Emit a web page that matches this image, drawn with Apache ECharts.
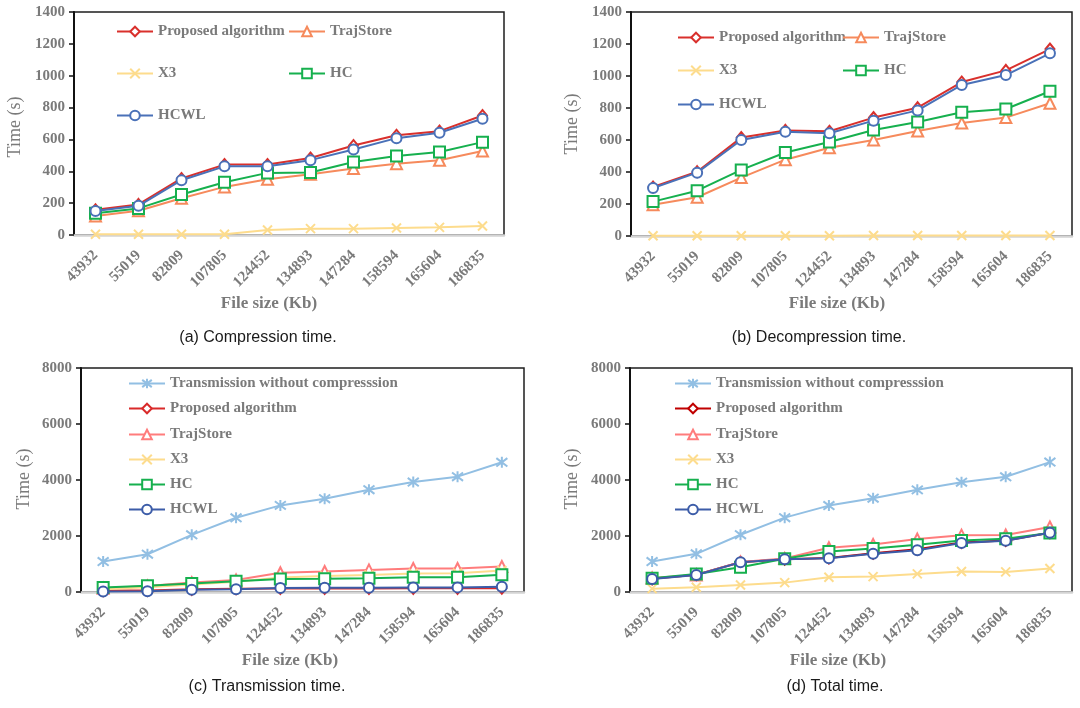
<!DOCTYPE html>
<html>
<head>
<meta charset="utf-8">
<script src="https://cdn.jsdelivr.net/npm/echarts@6/dist/echarts.min.js"></script>
<style>html,body{margin:0;padding:0;background:#fff;}#c{width:1080px;height:708px;}</style>
</head>
<body>
<div id="c"></div>
<script>
// ---------- data ----------
const fileSizes = ['43932','55019','82809','107805','124452','134893','147284','158594','165604','186835'];

// (a) Compression time
const compProposed  = [158, 192, 355, 442, 442, 483, 562, 626, 652, 750];
const compTrajStore = [120, 152, 231, 302, 350, 381, 417, 448, 469, 527];
const compX3        = [5, 5, 5, 5, 31, 40, 40, 44, 48, 56];
const compHC        = [136, 167, 254, 331, 390, 392, 458, 496, 521, 583];
const compHCWL      = [150, 183, 344, 431, 431, 470, 537, 608, 642, 730];

// (b) Decompression time
const decProposed  = [306, 402, 615, 660, 655, 740, 802, 962, 1035, 1168];
const decTrajStore = [196, 242, 365, 477, 552, 600, 656, 706, 740, 830];
const decX3        = [2, 2, 2, 2, 2, 3, 3, 3, 3, 3];
const decHC        = [215, 283, 413, 522, 588, 662, 712, 773, 794, 905];
const decHCWL      = [300, 396, 600, 652, 642, 721, 785, 944, 1006, 1142];

// (c) Transmission time
const trNone      = [1087, 1349, 2042, 2651, 3093, 3331, 3654, 3928, 4119, 4633];
const trProposed  = [50, 55, 95, 115, 125, 125, 128, 130, 130, 135];
const trTrajStore = [135, 215, 335, 430, 690, 730, 790, 840, 840, 910];
const trX3        = [100, 170, 270, 370, 520, 570, 610, 665, 670, 770];
const trHC        = [160, 220, 305, 380, 460, 470, 495, 530, 530, 615];
const trHCWL      = [20, 30, 80, 100, 145, 150, 155, 165, 165, 185];

// (d) Total time
const totNone      = [1088, 1363, 2045, 2655, 3086, 3349, 3648, 3923, 4114, 4640];
const totProposed  = [470, 620, 1060, 1170, 1215, 1385, 1530, 1770, 1840, 2115];
const totTrajStore = [500, 610, 1075, 1195, 1580, 1700, 1890, 2030, 2035, 2320];
const totX3        = [120, 167, 251, 335, 526, 550, 646, 730, 718, 837];
const totHC        = [490, 646, 885, 1184, 1447, 1555, 1686, 1842, 1900, 2105];
const totHCWL      = [466, 610, 1064, 1172, 1208, 1363, 1495, 1746, 1830, 2115];

const yTicksSmall = [0, 200, 400, 600, 800, 1000, 1200, 1400];
const yTicksLarge = [0, 2000, 4000, 6000, 8000];

const nameProposed = 'Proposed algorithm';
const nameTraj = 'TrajStore';
const nameX3 = 'X3';
const nameHC = 'HC';
const nameHCWL = 'HCWL';
const nameNone = 'Transmission without compresssion';

const captions = ['(a) Compression time.', '(b) Decompression time.', '(c) Transmission time.', '(d) Total time.'];
const xTitle = 'File size (Kb)';
const yTitle = 'Time (s)';

// ---------- styling ----------
const SERIF = '"Liberation Serif", "Times New Roman", serif';
const SANS = '"Liberation Sans", Arial, sans-serif';
const GRAY = '#7a7a7a';

const SYM = {
  diamond: 'emptyDiamond',
  triangle: 'emptyTriangle',
  cross: 'emptyPath://M0 0L10 10M10 0L0 10',
  rect: 'emptyRect',
  circle: 'emptyCircle',
  star: 'emptyPath://M5 0L5 10M0.6 1.2L9.4 8.8M9.4 1.2L0.6 8.8'
};
const SYMSIZE = {diamond: [9, 11], triangle: 11, cross: 9, rect: 11, circle: 10, star: 11};

const panels = [
  {
    grid: {left: 74, top: 12, width: 430, height: 223},
    ticks: yTicksSmall,
    series: [
      {name: nameProposed, data: compProposed, color: '#d9302c', sym: 'diamond'},
      {name: nameTraj, data: compTrajStore, color: '#f68a5c', sym: 'triangle'},
      {name: nameX3, data: compX3, color: '#fddc8d', sym: 'cross'},
      {name: nameHC, data: compHC, color: '#16b04e', sym: 'rect'},
      {name: nameHCWL, data: compHCWL, color: '#4a71b8', sym: 'circle'}
    ],
    legend: [[116, 33], [288, 33], [116, 75], [288, 75], [116, 117]],
    ytitle: [15, 127], xtitle: [269, 304], caption: [258, 338]
  },
  {
    grid: {left: 631, top: 12, width: 441, height: 224},
    ticks: yTicksSmall,
    series: [
      {name: nameProposed, data: decProposed, color: '#d9302c', sym: 'diamond'},
      {name: nameTraj, data: decTrajStore, color: '#f68a5c', sym: 'triangle'},
      {name: nameX3, data: decX3, color: '#fddc8d', sym: 'cross'},
      {name: nameHC, data: decHC, color: '#16b04e', sym: 'rect'},
      {name: nameHCWL, data: decHCWL, color: '#4a71b8', sym: 'circle'}
    ],
    legend: [[677, 39], [842, 39], [677, 72], [842, 72], [677, 106]],
    ytitle: [572, 124], xtitle: [837, 304], caption: [819, 338]
  },
  {
    grid: {left: 81, top: 368, width: 443, height: 224},
    ticks: yTicksLarge,
    series: [
      {name: nameNone, data: trNone, color: '#92bfe3', sym: 'star'},
      {name: nameProposed, data: trProposed, color: '#d92a2a', sym: 'diamond'},
      {name: nameTraj, data: trTrajStore, color: '#ff7c7c', sym: 'triangle'},
      {name: nameX3, data: trX3, color: '#fddc8d', sym: 'cross'},
      {name: nameHC, data: trHC, color: '#16b04e', sym: 'rect'},
      {name: nameHCWL, data: trHCWL, color: '#3c5ca8', sym: 'circle'}
    ],
    legend: [[128, 385], [128, 410], [128, 436], [128, 461], [128, 486], [128, 511]],
    ytitle: [24, 479], xtitle: [290, 661], caption: [267, 687]
  },
  {
    grid: {left: 630, top: 368, width: 442, height: 224},
    ticks: yTicksLarge,
    series: [
      {name: nameNone, data: totNone, color: '#92bfe3', sym: 'star'},
      {name: nameProposed, data: totProposed, color: '#c00000', sym: 'diamond'},
      {name: nameTraj, data: totTrajStore, color: '#ff7c7c', sym: 'triangle'},
      {name: nameX3, data: totX3, color: '#fddc8d', sym: 'cross'},
      {name: nameHC, data: totHC, color: '#16b04e', sym: 'rect'},
      {name: nameHCWL, data: totHCWL, color: '#3c5ca8', sym: 'circle'}
    ],
    legend: [[674, 385], [674, 410], [674, 436], [674, 461], [674, 486], [674, 511]],
    ytitle: [572, 479], xtitle: [838, 661], caption: [835, 687]
  }
];

const option = {
  animation: false,
  backgroundColor: '#fff',
  grid: [], xAxis: [], yAxis: [], series: [], legend: [], graphic: []
};

panels.forEach((p, i) => {
  const t = p.ticks;
  option.grid.push(Object.assign({show: true, borderColor: '#1e1e1e', borderWidth: 1.5, backgroundColor: '#fff', containLabel: false}, p.grid));
  option.xAxis.push({
    type: 'category', gridIndex: i, data: fileSizes, boundaryGap: true,
    axisLine: {show: true, lineStyle: {color: '#d4d4d4', width: 2.5}},
    axisTick: {show: false},
    axisLabel: {rotate: 45, margin: 18, color: GRAY, fontFamily: SERIF, fontWeight: 'bold', fontSize: 15, interval: 0},
    splitLine: {show: false}
  });
  option.yAxis.push({
    type: 'value', gridIndex: i, min: t[0], max: t[t.length - 1], interval: t[1] - t[0],
    axisLine: {show: true, lineStyle: {color: '#111', width: 2}},
    axisTick: {show: true, inside: false, length: 5, lineStyle: {color: '#111', width: 1.5}},
    axisLabel: {margin: 9, color: GRAY, fontFamily: SERIF, fontWeight: 'bold', fontSize: 15, formatter: v => String(v)},
    splitLine: {show: false}
  });
  p.series.forEach((s, k) => {
    const uname = s.name + '#' + i;
    option.series.push({
      type: 'line', name: uname, xAxisIndex: i, yAxisIndex: i, data: s.data,
      symbol: SYM[s.sym], symbolSize: SYMSIZE[s.sym], showAllSymbol: true,
      lineStyle: {color: s.color, width: 2},
      itemStyle: {color: s.color, borderColor: s.color, borderWidth: 1.6},
      z: 2 + k
    });
    const pos = p.legend[k];
    option.legend.push({
      data: [uname], left: pos[0], top: pos[1] - 9, padding: 0,
      itemWidth: 36, itemHeight: 12, itemGap: 0, selectedMode: false,
      formatter: n => n.split('#')[0],
      textStyle: {color: GRAY, fontFamily: SERIF, fontWeight: 'bold', fontSize: 15, padding: [2, 0, 0, 0]}
    });
  });
  option.graphic.push({
    type: 'text', x: p.ytitle[0], y: p.ytitle[1], rotation: Math.PI / 2,
    style: {text: yTitle, align: 'center', verticalAlign: 'middle', fill: GRAY, fontFamily: SERIF, fontSize: 18}
  });
  option.graphic.push({
    type: 'text', x: p.xtitle[0], y: p.xtitle[1],
    style: {text: xTitle, align: 'center', verticalAlign: 'middle', fill: GRAY, fontFamily: SERIF, fontWeight: 'bold', fontSize: 17}
  });
  option.graphic.push({
    type: 'text', x: p.caption[0], y: p.caption[1],
    style: {text: captions[i], align: 'center', verticalAlign: 'middle', fill: '#1a1a1a', fontFamily: SANS, fontSize: 16}
  });
});

const chart = echarts.init(document.getElementById('c'), null, {renderer: 'canvas'});
chart.setOption(option);
</script>
</body>
</html>
